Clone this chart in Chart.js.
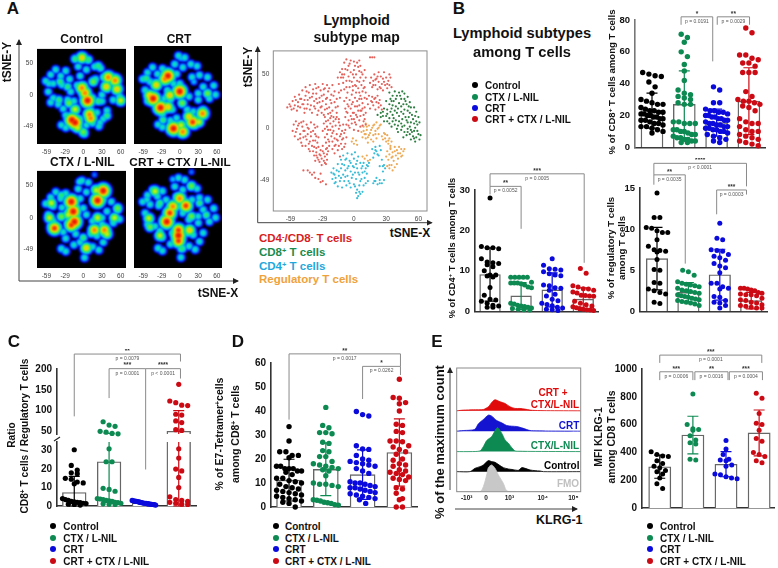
<!DOCTYPE html>
<html lang="en">
<head>
<meta charset="UTF-8">
<title>Lymphoid subtypes among T cells</title>
<style>
  body { margin: 0; background: #fff; width: 778px; height: 568px; overflow: hidden; position: relative;
         font-family: 'Liberation Sans', Arial, sans-serif; }
  canvas { position: absolute; }
  .t { position: absolute; white-space: nowrap; font-weight: bold; color: #111; transform: translate(-50%, -50%); }
  .t.left { transform: translate(0, -50%); }
  .t.v { transform: translate(-50%, -50%) rotate(-90deg); }
  .t sup { font-size: 65%; line-height: 0; vertical-align: 0.45em; }
  .dot { position: absolute; width: 6px; height: 6px; border-radius: 50%; transform: translate(-50%, -50%); }
  svg { position: absolute; left: 0; top: 0; }
</style>
<script src="https://cdn.jsdelivr.net/npm/chart.js"></script>
</head>
<body>
<svg width="778" height="568" id="overlay">
  <defs><marker id="tip" markerWidth="6" markerHeight="6" refX="5" refY="3" orient="auto"><path d="M0,0 L6,3 L0,6 z" fill="#222"/></marker></defs>
  <path d="M19,281 L238,281" fill="none" stroke="#444" stroke-width="1" marker-end="url(#tip)"/>
  <path d="M19,281 L19,40" fill="none" stroke="#444" stroke-width="1" marker-end="url(#tip)"/>
  <path d="M257.7,222.7 L257.7,47" fill="none" stroke="#444" stroke-width="1" marker-end="url(#tip)"/>
  <path d="M257.7,222.7 L431.7,222.7" fill="none" stroke="#444" stroke-width="1" marker-end="url(#tip)"/>
  <path d="M450,490 L450,368" fill="none" stroke="#444" stroke-width="1" marker-end="url(#tip)"/>
  <path d="M455,509 L577,509" fill="none" stroke="#444" stroke-width="1" marker-end="url(#tip)"/>
  <path d="M54,441 L60,437" stroke="#222" stroke-width="1.2"/>
</svg>
<script>
// group names and colours
const groupNames = ['Control', 'CTX / L-NIL', 'CRT', 'CRT + CTX / L-NIL'];
const groupColors = ['#000000', '#0d8a52', '#0a0adc', '#cc0a14'];

// B top: % CD8+
const cd8Control = [47,46,45,44.5,41,38,34,30,29,28,27,27,25,24,23,23,22,22,21,21,20,20,19,19,18,18,17,17,16,15,15,14,13,13,12,11,10,9];
const cd8Ctx = [71,69,66,60,57,52,48,42,36,34,33,32,31,30,28,27,27,16,16,15,15,15,11,11,10,10,9,8,8,7,6,6,5,5,4,4,3,3];
const cd8Crt = [38,36,28,28,24,23,23,22,22,21,20,20,19,19,18,18,17,17,16,15,15,14,14,13,13,12,12,11,11,10,10,9,8,7,6,5,4,3];
const cd8Combo = [75,72,58,58,56,55,53,53,51,47,47,47,35,32,30,29,29,28,27,26,25,23,18,16,15,15,13,11,10,10,8,7,6,5,4,3,2,1];
const cd8Means = [23, 27, 15.5, 29];
const cd8Sds = [11, 21, 8.5, 21];

// B lower left: % CD4+
const cd4Control = [28,16,15.7,15.7,15.5,13,12.2,12,11.8,11.5,11,10,9,9,8.7,8.5,5.9,4,3,2.8,2.5,2,1.5,1.3,1,1];
const cd4Ctx = [8.4,8.4,8.4,8.4,8.4,7.2,7,7,7,6.8,6.5,6,5.8,2,1.8,1.5,1.3,1.2,1,0.8,0.7,0.5,0.4,0.3];
const cd4Crt = [13,11.4,10.5,10.4,10.2,9.8,9.3,9,8.8,6.5,6.3,5.8,5.7,5.2,4.2,3.8,3,2.6,2,1.7,1.4,1,0.8,0.5,0.4,0.2];
const cd4Combo = [10.6,9.4,6.3,6,5.6,5.5,5.2,4.8,4.5,4,3.9,3.8,3.7,2.5,2,1.6,1.3,1.1,0.9,0.7,0.5,0.4,0.3,0.2];
const cd4Means = [9.1, 3.8, 5.3, 3];
const cd4Sds = [6.6, 3.3, 4.2, 2.8];

// B lower right: % regulatory
const tregControl = [14.4,11.4,11.4,10.2,10.1,9.8,9.6,9.6,8.7,7.9,7.5,7.4,7.3,7.2,6.3,5.1,5,3.5,3.4,2.7,2.5,2.3,2.1,1.1,0.95];
const tregCtx = [5,4.8,4.4,3.6,3.4,3.3,3.2,3.1,3,2.8,2.6,2.5,2.4,2.3,2.2,2,1.9,1.8,1.7,1.6,1.5,1.4,1.3,1.2,1.1,1,0.9,0.7];
const tregCrt = [10.7,8.9,8.7,7.5,7.4,7.3,6.9,6.7,6.5,6.2,5.8,5.5,5.3,4.7,3.4,3.4,3,2.8,2.7,1.8,1.7,1.3,1.1,1,0.7,0.4];
const tregCombo = [2.8,2.8,2.7,2.6,2.5,2.3,2.2,2.1,2,2,1.9,1.6,1.4,1.3,1.1,1,0.8,0.7,0.6,0.5,0.4,0.4];
const tregMeans = [6.4, 2.3, 4.45, 1.3];
const tregSds = [3.8, 1.2, 3.1, 1];

// C: ratio, axis is broken between 35 and 43
const ratioControl = [30.5,22,19.5,18,17.5,15,14.5,13,12.5,12,4,3.5,3,2.5,2.2,2,1.8,1.5,1.3,1,0.8,0.5];
const ratioCtx = [73,65,62,50,48,45,44,31,24,24,9.6,9,8,4,3.8,3.5,3,2.8,2.5,2,1.8,1.5,1.2,1,0.8];
const ratioCrt = [3,2.8,2.6,2.5,2.4,2.2,2,1.8,1.6,1.5,1.4,1.2,1.1,1,0.9,0.8,0.7,0.5];
const ratioCombo = [163,123,119,113,112,91,89,75,71,54,52,31,26,20,19,15.5,10,5,3.5,3,2.5,2,1.5,1,0.8];
const ratioMeans = [7.3, 24, 1.6, 50];
const ratioSds = [8.8, 21, 0.7, 50];

// D: % E7-Tetramer+
const e7Control = [33.5,27.5,23,23,21.5,21.5,20.5,17,17,16,16,16,15,15,14.5,13.5,12,12,11,10.5,10,9.5,8.5,8,7.5,7,6.5,6,5.5,5,4.5,4,3.5,3,2.5,2,1.5,0];
const e7Ctx = [41.5,34,33,31,31,30.5,27,26.5,23.5,23,21,21,19,18,17.5,17,16.5,16,15.5,15,13,10,9.5,9.5,9,8.5,3,2.8,2.5,2,1.8,1.5,1,0.8];
const e7Crt = [39.8,38.5,37.9,25.5,24.2,24,21.5,20,19.5,19,18.5,18,17.5,17,16,15,14,10.5,10,10,9.5,9,8.5,8,8,7.5,7,6.5,6,5.5,5,4.5,4,3.5,3,1.5];
const e7Combo = [53.2,45.6,45.3,43.5,43,40,34.5,34,31.5,31,27.5,27.5,27.2,25.5,25,24,23,22,20,19.5,18,17.5,17,15.5,15,14.5,14,13.5,12.5,12,11.5,11,8,7.5,5.7,3.5,3,0,0];
const e7Means = [11.2, 15.7, 13.5, 22.7];
const e7Sds = [8.7, 11, 10.3, 14];

// E right: MFI KLRG-1
const mfiControl = [405,385,375,370,340,320,300,290,270,260,245,215,175,140];
const mfiCtx = [820,600,570,565,560,520,490,470,460,350,345];
const mfiCrt = [485,425,385,350,345,340,310,300,245,240,225,215,210];
const mfiCombo = [825,790,680,610,600,560,500,480,400,385,370,340,325];
const mfiMeans = [297, 525, 315, 540];
const mfiSds = [83, 135, 90, 165];

// E left: histogram traces, channel / height above the row baseline
const histFmoX = [0,70,80,90,95,105,115,125,140,148,155,372];
const histFmoH = [0,0,15,50,72,80,70,50,25,5,1,0];
const histControlX = [0,40,55,70,80,95,105,115,130,140,155,170,185,195,205,220,235,250,260,372];
const histControlH = [0,0,10,15,20,33,30,28,18,12,8,6,4,12,10,5,3,2,0,0];
const histCtxX = [0,40,70,80,90,105,122,135,145,155,165,175,190,220,372];
const histCtxH = [0,0,2,15,33,45,72,55,35,25,12,2,1,0.5,0];
const histCrtX = [0,20,40,55,65,80,95,105,120,135,150,165,180,195,210,220,240,275,372];
const histCrtH = [0,2,3,6,22,35,48,45,32,25,17,15,14,10,5,2,1,0.5,0];
const histComboX = [0,20,50,80,95,105,115,130,145,160,175,190,205,220,235,270,372];
const histComboH = [0,2,3,4,12,25,33,27,22,12,7,7,5,2,1,0.5,0];
const histBases = [0, 60, 120, 181, 242];
const histMajorTicks = [30, 88, 158, 258, 350];
const histMajorLabels = ['-10³', '0', '10³', '10⁴', '10⁵'];
const histMinorTicks = [10,18,45,60,75,120,135,175,190,205,215,225,240,280,300,315,335,362];

// A: density hot spots [tSNE-X, tSNE-Y, density]
const heatBody = [[-60,22],[-52,32],[-44,40],[-36,30],[-28,38],[-22,25],[-48,18],[-34,16],[-56,5],[-48,-5],[-40,-15],[-52,-12],[-32,-22],[-28,-32],[-20,5],[-15,-10],[-25,-8],[-12,-25],[-10,15],[-5,30],[0,15],[5,5],[-8,45],[-2,58],[8,55],[5,40],[18,45],[28,42],[32,28],[45,25],[55,12],[38,10],[58,-2],[48,-8],[30,0],[15,-5],[20,25],[30,-10],[38,-25],[32,-38],[12,-25],[22,-28],[-15,-42],[-5,-38],[5,-48],[15,-45],[25,-50],[2,-62],[-35,-48],[-28,-52]];
const heatControl = [[-2,59,5.5],[-13,57,4],[8,56,4],[7,-9,7],[-2,11,6],[3,3,6],[40,28,6],[51,23,6],[37,13,5.5],[54,9,5.5],[60,-9,5],[-13,-44,7],[-18,-40,7],[-9,-52,5],[0,-59,4.5],[10,-31,6],[12,-37,6],[-13,-23,5],[-23,-13,4.5],[-37,21,4],[-39,-8,4],[-25,13,4],[-55,18,3.5],[24,46,4],[38,-33,4],[27,-44,3.5],[16,21,4.5],[24,-10,4]];
const heatCrt = [[-19,27,7],[-24,22,6],[-43,-8,7],[-49,-3,5.5],[-38,13,5.5],[-31,-22,7],[-19,-21,5.5],[-16,-3,5.5],[0,3,7],[4,-15,4.5],[-10,-54,7],[5,-59,6],[21,-44,6.5],[15,-36,5.5],[37,-31,6],[31,-44,5],[2,-49,5],[-27,-41,4],[45,0,4.5],[2,54,3],[23,18,3],[-54,23,4]];
const heatCtx = [[-19,25,7],[-16,10,7],[-14,-6,7],[-19,-11,6.5],[-24,5,5],[23,27,7],[32,42,7],[21,43,5],[-51,23,5],[-46,-16,6.5],[-54,0,5],[-35,2,4.5],[18,-19,6],[34,-19,6],[38,-25,5],[23,0,5],[50,0,5],[55,15,4.5],[5,-47,5.5],[-6,56,3.5],[0,-31,4],[-35,35,4],[18,67,2.5]];
const heatCombo = [[-2,-29,7],[-2,-21,6.5],[-2,-37,6.5],[-21,-8,7],[-16,5,6.5],[-11,15,6],[0,27,6],[10,16,6.5],[16,-21,5.5],[19,0,4.5],[-50,-3,5],[-48,-16,4.5],[-32,-29,5],[-40,38,5],[-53,25,3.5],[3,-49,4],[43,2,4],[32,20,4],[19,46,4.5],[-11,56,3],[19,67,2.5],[-32,20,4]];
const heatRamp = ['#00008c','#0000d8','#0040ff','#0090ff','#00d0f0','#10e8a0','#30e850','#90f020','#e8f000','#ffb000','#ff6000','#e81000'];

// A: subtype map cells, read as x,y pairs
const mapRed = [-62,19,-60,22,-58,17,-57,25,-55,21,-55,29,-53,16,-52,24,-51,31,-50,19,-49,27,-48,35,-47,22,-46,14,-45,30,-45,38,-44,18,-43,26,-42,33,-41,40,-40,21,-39,29,-39,14,-38,36,-37,25,-36,18,-36,41,-35,32,-34,12,-34,23,-33,38,-32,28,-31,19,-31,35,-30,14,-29,41,-29,25,-28,31,-27,37,-27,17,-26,22,-25,40,-25,28,-24,13,-24,34,-23,19,-22,26,-21,31,-20,16,-20,40,-19,10,-18,24,-18,34,-16,14,-15,20,-14,8,-13,28,
  -57,-3,-56,3,-55,-8,-54,6,-53,-1,-52,-11,-51,4,-50,-6,-49,-14,-48,1,-47,-9,-47,6,-46,-3,-45,-17,-44,-11,-44,3,-43,-6,-42,-20,-42,-1,-41,-13,-40,5,-40,-8,-39,-17,-38,-3,-38,-22,-37,3,-36,-12,-36,-6,-35,-19,-34,1,-34,-14,-33,-9,-41,-22,-48,-17,
  -37,-26,-36,-31,-35,-23,-34,-28,-33,-18,-32,-25,-32,-32,-31,-21,-30,-29,-30,-35,-29,-17,-28,-24,-28,-31,-27,-27,-26,-20,-26,-34,-25,-25,-25,-30,-24,-22,
  -29,-3,-28,4,-27,-9,-27,10,-26,-14,-25,1,-25,-6,-24,7,-24,-11,-23,-17,-22,-2,-22,4,-21,-8,-21,11,-20,-13,-20,-20,-19,-3,-19,6,-18,-10,-18,-24,-17,2,-17,-16,-16,-6,-16,10,-15,-12,-15,-21,-14,-1,-14,5,-13,-8,-13,-27,-12,-15,-11,-3,-11,-20,-10,-10,-10,3,-9,-5,-8,-15,-7,-9,
  -9,61,-7,64,-5,58,-3,63,0,62,3,61,6,58,5,63,-13,52,-15,47,-14,41,-12,47,-11,55,-10,42,-9,36,-9,50,-7,44,-6,54,-6,33,-5,48,-4,38,-3,52,-2,43,-2,31,-1,35,0,47,0,54,1,40,2,33,2,50,3,44,4,37,5,53,6,47,6,30,7,40,8,34,8,50,9,44,10,38,10,54,11,33,11,47,-12,35,-14,33,
  -9,25,-8,18,-8,10,-7,28,-7,3,-6,22,-6,14,-5,7,-4,26,-4,0,-3,18,-3,11,-2,4,-1,24,-1,14,0,-2,0,8,1,20,1,28,2,12,2,3,3,25,4,16,4,-3,5,7,5,21,6,11,6,1,7,27,7,16,8,23,9,6,9,12,10,19,10,28,11,3,11,14,
  15,42,16,47,17,38,18,44,19,50,20,40,21,46,22,36,23,43,23,52,24,38,25,48,26,41,27,35,27,46,28,52,29,40,30,47,31,37,32,44,33,40,34,47,35,38,
  12,27,13,22,14,30,15,18,16,25,17,29,18,21,19,27,20,17,21,24,22,30,23,19,24,26,25,21,26,17,
  -43,-40,-41,-42,-39,-44,-37,-42,-36,-47,-33,-48,-31,-51,-29,-50,-26,-53,-31,-43,15,66,17,66,19,66,-47,-40,
  -59,20,-56,18,-54,26,-52,20,-50,27,-48,22,-46,26,-46,18,-44,34,-43,22,-41,28,-41,17,-38,32,-37,20,-35,27,-35,37,-33,16,-32,24,-30,30,-30,20,-28,36,-28,12,-26,27,-25,18,-23,37,-22,14,-21,23,-19,30,-17,19,-16,27,
  -54,-4,-52,2,-50,-10,-49,5,-47,-3,-45,-8,-43,0,-42,-15,-40,-4,-38,-12,-37,-18,-36,0,-35,-8,-35,-26,-33,-30,-31,-26,-29,-22,-27,-33,-25,-19,
  -27,-1,-26,6,-24,-2,-23,-13,-22,9,-20,-5,-20,1,-18,-17,-17,8,-16,-11,-14,-17,-13,2,-12,-6,-11,-11,-9,-18,-8,-2,
  -11,50,-8,55,-4,60,1,58,4,57,-10,47,-7,38,-4,44,-1,50,2,39,5,33,5,43,9,37,-1,39,7,52,
  -7,15,-5,20,-5,2,-2,22,-2,8,0,14,1,5,3,20,3,10,5,27,6,16,8,18,8,2,10,8,
  18,40,20,45,22,48,25,37,28,43,31,41,33,50,17,24,20,28,23,23];
const mapGreen = [33,33,36,30,38,34,34,27,37,25,40,30,42,33,45,34,47,32,44,27,47,27,50,29,52,24,49,22,46,22,42,23,39,20,36,21,33,22,30,25,28,18,31,17,34,15,25,14,22,12,27,11,30,11,33,9,36,12,38,16,41,18,44,15,47,17,50,16,53,19,56,19,58,15,60,10,57,11,54,12,51,10,48,10,45,8,42,11,39,7,36,6,33,4,31,6,28,6,35,1,38,3,41,2,44,4,47,2,50,5,53,5,56,4,59,3,61,5,59,-3,56,-3,53,-2,50,-1,47,-4,44,-2,41,-4,49,-7,52,-6,55,-8,58,-9,61,-11,62,-7,57,-13,53,-11,46,-9,
  35,25,39,27,43,30,48,25,51,20,44,20,40,14,35,18,31,13,27,15,25,10,37,9,42,6,46,13,52,14,55,8,49,7,40,-1,45,1,52,1,57,0,58,6,50,-4,54,-4,60,-6,56,-10];
const mapCyan = [-21,-42,-20,-48,-19,-38,-18,-44,-18,-52,-17,-47,-16,-40,-15,-55,-15,-34,-14,-45,-13,-50,-12,-38,-12,-30,-11,-56,-10,-44,-10,-26,-9,-35,-9,-50,-8,-40,-7,-29,-7,-54,-6,-45,-6,-24,-5,-36,-5,-50,-4,-31,-3,-41,-3,-56,-2,-25,-2,-47,-1,-36,0,-29,0,-53,1,-42,1,-23,2,-34,2,-48,3,-58,3,-38,4,-27,5,-44,5,-54,6,-33,7,-48,7,-38,8,-42,9,-33,9,-54,10,-47,11,-38,12,-43,13,-36,13,-50,14,-33,2,-61,4,-64,6,-62,8,-60,3,-66,5,-60,17,-20,19,-24,20,-18,21,-22,23,-26,25,-21,24,-17,18,-28,18,-52,20,-50,22,-53,24,-49,26,-52,28,-49,21,-47,26,-30,28,-35,27,-41,29,-38,24,-36,
  -19,-43,-17,-51,-14,-41,-12,-47,-11,-34,-8,-46,-8,-30,-6,-38,-4,-52,-3,-33,-1,-44,0,-37,1,-55,3,-31,4,-42,6,-50,8,-36,10,-41,11,-52,12,-35,20,-21,22,-25,19,-50,24,-52,27,-36];
const mapOrange = [7,-4,9,1,10,-6,11,4,12,-2,13,-9,14,2,15,-5,16,-11,17,0,18,-7,19,3,20,-3,21,-10,21,5,22,-1,23,-6,24,2,25,3,11,-10,8,-9,13,-14,18,-13,-2,-13,0,-15,2,-12,3,-16,-1,-10,26,-8,28,-5,29,-10,30,-13,31,-7,32,-15,33,-10,34,-17,35,-13,27,-11,30,-27,31,-22,32,-30,33,-25,34,-19,35,-28,36,-23,37,-31,38,-18,39,-26,40,-21,41,-29,42,-18,43,-24,44,-20,45,-26,46,-22,47,-20,31,-36,33,-38,35,-35,36,-40,38,-37,40,-34,8,-27,10,-29,12,-26,13,-31,15,-30,
  9,-3,12,1,14,-7,16,-2,18,2,20,-6,23,0,11,-6,29,-6,32,-12,34,-20,36,-27,38,-22,41,-24,44,-27,33,-35];
const tsneXTicks = [-59, -29, 0, 30, 60];
const tsneYTicks = [-49, 0, 50];

// significance brackets, in group / value units
const cd8Brackets = [
  {from: 0.9, to: 1.88, top: 82, endA: 77, endB: 54, stars: '*', p: 'p = 0.0191'},
  {from: 2.02, to: 3.02, top: 82, endA: 77, endB: 77, stars: '**', p: 'p = 0.0029'}];
const cd4Brackets = [
  {from: 0, to: 1, top: 30.9, endA: 28.9, endB: 20.4, stars: '**', p: 'p = 0.0052'},
  {from: 0, to: 3.03, top: 34, endA: 30.9, endB: 12, stars: '***', p: 'p = 0.0005'}];
const tregBrackets = [
  {from: -0.1, to: 2.85, top: 18, endA: 16.6, endB: 15.2, stars: '****', p: 'p < 0.0001'},
  {from: -0.1, to: 0.9, top: 16.6, endA: 15.4, endB: 5.8, stars: '**', p: 'p = 0.0035'},
  {from: 1.9, to: 2.85, top: 14.76, endA: 11.8, endB: 14.2, stars: '***', p: 'p = 0.0003'}];
const ratioBrackets = [
  {from: 0, to: 3.05, top: 236, endA: 86, endB: 218, stars: '**', p: 'p = 0.0079'},
  {from: 1, to: 2.05, top: 200.8, endA: 130, endB: -42, stars: '***', p: 'p = 0.0001'},
  {from: 2.05, to: 3.05, top: 200.8, endA: 200.8, endB: 177, stars: '****', p: 'p < 0.0001'}];
const e7Brackets = [
  {from: 0, to: 3.03, top: 63.8, endA: 36.4, endB: 58.6, stars: '**', p: 'p = 0.0017'},
  {from: 2, to: 3.03, top: 58.6, endA: 45, endB: 55, stars: '*', p: 'p = 0.0262'}];
const mfiBrackets = [
  {from: 0, to: 3.08, top: 1100, endA: 1044, endB: 1044, stars: '***', p: 'p = 0.0001'},
  {from: 0, to: 1, top: 980, endA: 920, endB: 920, stars: '***', p: 'p = 0.0006'},
  {from: 1.06, to: 2.06, top: 980, endA: 920, endB: 920, stars: '**', p: 'p = 0.0016'},
  {from: 2.1, to: 3.1, top: 980, endA: 920, endB: 920, stars: '***', p: 'p = 0.0004'}];

Chart.defaults.font.family = "'Liberation Sans', Arial, sans-serif";
Chart.defaults.animation = false;

const addCanvas = (left, top, width, height) => {
  const c = document.createElement('canvas');
  c.width = width; c.height = height;
  c.style.left = left + 'px'; c.style.top = top + 'px';
  document.body.appendChild(c);
  return c;
};

const label = (html, x, y, size, color, cls) => {
  const d = document.createElement('div');
  d.className = 't ' + (cls || '');
  d.innerHTML = html;
  d.style.left = x + 'px'; d.style.top = y + 'px';
  d.style.fontSize = size + 'px';
  if (color) d.style.color = color;
  document.body.appendChild(d);
};

const groupLegend = (dotX, textX, ys) => {
  groupNames.forEach((name, i) => {
    const dot = document.createElement('div');
    dot.className = 'dot';
    dot.style.left = dotX + 'px'; dot.style.top = ys[i] + 'px';
    dot.style.background = groupColors[i];
    document.body.appendChild(dot);
    label(name, textX, ys[i], 10, '#111', 'left');
  });
};

// prism style dot rows: values close in height share a row, spread evenly round the bar centre
const swarm = (values, yPx, r, maxDx) => {
  const placed = [], binH = r * 2;
  let row = [];
  const flush = () => {
    const step = row.length > 1 ? Math.min(r * 2.3, 2 * maxDx / (row.length - 1)) : 0;
    row.forEach((v, j) => placed.push({v, dx: (j - (row.length - 1) / 2) * step}));
    row = [];
  };
  [...values].sort((a, b) => b - a).forEach(v => {
    if (row.length && yPx(v) - yPx(row[0]) > binH) flush();
    row.push(v);
  });
  flush();
  return placed;
};

const swarmExtras = {
  id: 'swarmExtras',
  afterDatasetDraw(chart, args, opts) {
    if (args.index !== 0) return;
    const {ctx} = chart, xs = chart.scales.x, ys = chart.scales.y;
    opts.means.forEach((m, i) => {
      const hi = m + opts.sds[i], lo = Math.max(m - opts.sds[i], 0);
      if (lo > ys.max || hi < ys.min) return;
      const x = xs.getPixelForValue(i);
      ctx.save();
      ctx.strokeStyle = groupColors[i];
      ctx.lineWidth = 1.2;
      ctx.beginPath();
      ctx.moveTo(x, ys.getPixelForValue(Math.min(hi, ys.max)));
      ctx.lineTo(x, ys.getPixelForValue(Math.max(lo, ys.min)));
      [hi, lo].forEach(v => {
        if (v < ys.min || v > ys.max) return;
        ctx.moveTo(x - 5.5, ys.getPixelForValue(v));
        ctx.lineTo(x + 5.5, ys.getPixelForValue(v));
      });
      ctx.stroke();
      ctx.restore();
    });
  },
  afterDraw(chart, args, opts) {
    const {ctx} = chart, xs = chart.scales.x, ys = chart.scales.y;
    (opts.brackets || []).forEach(b => {
      const x1 = xs.getPixelForValue(b.from), x2 = xs.getPixelForValue(b.to), top = ys.getPixelForValue(b.top);
      ctx.save();
      ctx.strokeStyle = '#8a8a8a';
      ctx.lineWidth = 1;
      ctx.beginPath();
      ctx.moveTo(x1, ys.getPixelForValue(b.endA));
      ctx.lineTo(x1, top);
      ctx.lineTo(x2, top);
      ctx.lineTo(x2, ys.getPixelForValue(b.endB));
      ctx.stroke();
      ctx.textAlign = 'center';
      ctx.textBaseline = 'middle';
      ctx.fillStyle = '#333';
      ctx.font = "bold 6.5px 'Liberation Sans'";
      ctx.fillText(b.stars, (x1 + x2) / 2, top - 3);
      ctx.fillStyle = '#555';
      ctx.font = "5px 'Liberation Sans'";
      ctx.fillText(b.p, (x1 + x2) / 2, top + 4.5);
      ctx.restore();
    });
  }
};

const swarmPanel = cfg => {
  const {plot, center0, spacing, barWidth, placed, means, sds, yMin, yMax, yTicks, brackets} = cfg;
  const [l, t, r, b] = plot;
  const axisW = 30, topPad = cfg.topPad || 18, bottomPad = cfg.bottomPad || 5, rightPad = 5;
  const canvas = addCanvas(Math.round(l - axisW), Math.round(t - topPad), Math.round(axisW + r - l + rightPad), Math.round(topPad + b - t + bottomPad));
  const barData = means.map((y, x) => ({x, y})).filter(p => p.y >= yMin);
  const datasets = [{
    type: 'bar', data: barData, order: 1,
    backgroundColor: '#fff', borderColor: '#666', borderWidth: 1.4, barThickness: barWidth
  }];
  placed.forEach((group, i) => {
    datasets.push({
      type: 'scatter', order: 0, clip: false,
      data: group.filter(p => p.v >= yMin && p.v <= yMax).map(p => ({x: i + p.dx / spacing, y: p.v})),
      backgroundColor: groupColors[i], borderWidth: 0, pointRadius: cfg.radius
    });
  });
  new Chart(canvas, {
    type: 'bar',
    data: {datasets},
    options: {
      responsive: false,
      layout: {autoPadding: false, padding: {top: topPad, bottom: bottomPad, left: 0, right: rightPad}},
      plugins: {legend: {display: false}, tooltip: {enabled: false}, swarmExtras: {means, sds, brackets}},
      scales: {
        x: {
          type: 'linear', min: (l - center0) / spacing, max: (r - center0) / spacing, offset: false,
          display: cfg.showX !== false,
          grid: {display: false, drawTicks: false},
          ticks: {display: false},
          border: {color: '#333', width: 1.5},
          afterFit: s => { s.height = 0; }
        },
        y: {
          min: yMin, max: yMax,
          grid: {display: false, tickLength: 4, drawTicks: true, drawOnChartArea: false, tickColor: '#222'},
          border: {color: cfg.axisColor || '#333', width: 1.6},
          ticks: {color: '#111', font: {size: cfg.tickSize || 10, weight: 'bold'}, padding: 1, autoSkip: false, callback: v => String(v)},
          afterBuildTicks: s => { s.ticks = yTicks.map(value => ({value})); },
          afterFit: s => { s.width = axisW; }
        }
      }
    },
    plugins: [swarmExtras]
  });
};

const linearPanel = cfg => {
  const [, t, , b] = cfg.plot;
  const yPx = v => b - (v - cfg.yMin) * (b - t) / (cfg.yMax - cfg.yMin);
  swarmPanel({...cfg, placed: cfg.groups.map(g => swarm(g, yPx, cfg.radius, cfg.barWidth * 0.5))});
};

// B
linearPanel({
  plot: [635, 20, 765, 149], center0: 652, spacing: 32.3, barWidth: 22, radius: 2.7, tickSize: 9.5, axisColor: '#777',
  groups: [cd8Control, cd8Ctx, cd8Crt, cd8Combo], means: cd8Means, sds: cd8Sds, yMin: 0, yMax: 80, yTicks: [0, 20, 40, 60, 80], brackets: cd8Brackets
});
linearPanel({
  plot: [475, 189.7, 597.7, 312.3], center0: 490, spacing: 31, barWidth: 20.7, radius: 2.5, tickSize: 9.5, topPad: 30,
  groups: [cd4Control, cd4Ctx, cd4Crt, cd4Combo], means: cd4Means, sds: cd4Sds, yMin: 0, yMax: 30, yTicks: [0, 10, 20, 30], brackets: cd4Brackets
});
linearPanel({
  plot: [640, 188, 767, 313], center0: 657, spacing: 31.4, barWidth: 21.5, radius: 2.5, tickSize: 9.5, topPad: 30,
  groups: [tregControl, tregCtx, tregCrt, tregCombo], means: tregMeans, sds: tregSds, yMin: 0, yMax: 15, yTicks: [0, 5, 10, 15], brackets: tregBrackets
});

// C, two stacked plots sharing one swarm layout
const ratioPx = v => v <= 35 ? 507.7 - v * 1.9 : 431 - (v - 50) * 0.413;
const ratioPlaced = [ratioControl, ratioCtx, ratioCrt, ratioCombo].map(g => swarm(g, ratioPx, 2.6, 11.8));
swarmPanel({
  plot: [56.7, 441.7, 196, 507.7], center0: 74, spacing: 34.9, barWidth: 23.7, radius: 2.6,
  placed: ratioPlaced, means: ratioMeans, sds: ratioSds, yMin: 0, yMax: 34.7, yTicks: [0, 10, 20, 30], topPad: 8
});
swarmPanel({
  plot: [56.7, 369, 196, 433.7], center0: 74, spacing: 34.9, barWidth: 23.7, radius: 2.6, showX: false,
  placed: ratioPlaced, means: ratioMeans, sds: ratioSds, yMin: 43.5, yMax: 200, yTicks: [50, 100, 150, 200], brackets: ratioBrackets, topPad: 20, bottomPad: 40
});

// D
linearPanel({
  plot: [271, 363.3, 416.7, 509.3], center0: 289, spacing: 36.7, barWidth: 25, radius: 2.7,
  groups: [e7Control, e7Ctx, e7Crt, e7Combo], means: e7Means, sds: e7Sds, yMin: 0, yMax: 60, yTicks: [0, 10, 20, 30, 40, 50, 60], brackets: e7Brackets, topPad: 24
});

// E bars
linearPanel({
  plot: [641.7, 368.7, 774, 509.7], center0: 659.5, spacing: 33.2, barWidth: 22.2, radius: 2.5,
  groups: [mfiControl, mfiCtx, mfiCrt, mfiCombo], means: mfiMeans, sds: mfiSds, yMin: 0, yMax: 1000, yTicks: [0, 200, 400, 600, 800, 1000], brackets: mfiBrackets, topPad: 24
});

// E histograms
const boxOutline = {
  id: 'boxOutline',
  afterDraw(chart) {
    const {ctx, chartArea: a} = chart;
    ctx.save();
    ctx.strokeStyle = '#8c8c8c';
    ctx.lineWidth = 1;
    ctx.strokeRect(a.left, a.top, a.width, a.height);
    ctx.restore();
  }
};
const histRow = (xs, hs, row, color) => ({
  data: xs.map((x, i) => ({x, y: histBases[row] + hs[i]})),
  borderColor: color, borderWidth: 0.8, backgroundColor: color, pointRadius: 0, tension: 0.25,
  fill: {value: histBases[row]}
});
new Chart(addCanvas(452, 364, 135, 146), {
  type: 'line',
  data: {datasets: [
    histRow(histFmoX, histFmoH, 0, '#c8c8c8'),
    histRow(histControlX, histControlH, 1, '#000000'),
    histRow(histCtxX, histCtxH, 2, '#0d8a52'),
    histRow(histCrtX, histCrtH, 3, '#1414d0'),
    histRow(histComboX, histComboH, 4, '#e00a0a')
  ]},
  options: {
    responsive: false,
    layout: {autoPadding: false, padding: {top: 4, left: 4.7, right: 6.3, bottom: 0}},
    plugins: {legend: {display: false}, tooltip: {enabled: false}},
    scales: {
      x: {
        type: 'linear', min: 0, max: 372,
        grid: {display: false, drawTicks: true, tickLength: 3, drawOnChartArea: false, tickColor: '#444'},
        border: {display: false},
        ticks: {
          autoSkip: false, maxRotation: 0, padding: 0, color: '#222', font: {size: 6.5, weight: 'bold'},
          callback: v => histMajorLabels[histMajorTicks.indexOf(v)] || ''
        },
        afterBuildTicks: s => { s.ticks = [...histMajorTicks, ...histMinorTicks].sort((a, b) => a - b).map(value => ({value})); },
        afterFit: s => { s.height = 18.3; }
      },
      y: {min: 0, max: 370, display: false}
    }
  },
  plugins: [boxOutline]
});

// A density maps: nested discs per density level, softened a little
const heatBlur = {
  id: 'heatBlur',
  beforeDatasetsDraw(chart) {
    const {ctx, chartArea: a} = chart;
    ctx.fillStyle = '#000';
    ctx.fillRect(a.left, a.top, a.width, a.height);
    ctx.save();
    ctx.beginPath();
    ctx.rect(a.left, a.top, a.width, a.height);
    ctx.clip();
    ctx.filter = 'blur(1.2px)';
  },
  afterDatasetsDraw(chart) { chart.ctx.restore(); }
};

const tsneScales = (showY) => ({
  x: {
    type: 'linear', min: -74, max: 68.5,
    grid: {display: false, drawTicks: true, tickLength: 3, drawOnChartArea: false, tickColor: '#555'},
    border: {display: false},
    ticks: {autoSkip: false, maxRotation: 0, padding: 1, color: '#444', font: {size: 6.5}},
    afterBuildTicks: s => { s.ticks = tsneXTicks.map(value => ({value})); },
    afterFit: s => { s.height = 14; }
  },
  y: {
    type: 'linear', min: -78, max: 73,
    grid: {display: false, drawTicks: showY, tickLength: 3, drawOnChartArea: false, tickColor: '#555'},
    border: {display: false},
    ticks: {display: showY, autoSkip: false, padding: 1, color: '#444', font: {size: 6.5}},
    afterBuildTicks: s => { s.ticks = tsneYTicks.map(value => ({value})); },
    afterFit: s => { s.width = 16; }
  }
});

const heatPanel = (box, spots, showY) => {
  const [l, t, r, b] = box;
  const blobs = heatBody.map(p => [p[0], p[1], 3.6]).concat(spots);
  const datasets = heatRamp.map((color, k) => {
    const level = 1 + k * 0.5;
    const live = blobs.filter(p => p[2] >= level);
    return {
      data: live.map(p => ({x: p[0], y: p[1]})),
      pointRadius: live.map(p => 1.5 + (p[2] - level) * 1.45),
      backgroundColor: color, borderWidth: 0, order: heatRamp.length - k
    };
  });
  new Chart(addCanvas(Math.round(l - 16), Math.round(t - 2), Math.round(r - l + 16 + 4), Math.round(b - t + 2 + 14)), {
    type: 'scatter',
    data: {datasets},
    options: {
      responsive: false,
      layout: {autoPadding: false, padding: {top: 2, right: 4, left: 0, bottom: 0}},
      plugins: {legend: {display: false}, tooltip: {enabled: false}},
      scales: tsneScales(showY)
    },
    plugins: [heatBlur]
  });
};
heatPanel([37, 46, 126, 144], heatControl, true);
heatPanel([134, 46, 222, 144], heatCrt, false);
heatPanel([37, 168, 126, 268], heatCtx, true);
heatPanel([134, 168, 222, 268], heatCombo, false);

// A subtype map
const pairs = flat => { const out = []; for (let i = 0; i < flat.length; i += 2) out.push({x: flat[i], y: flat[i + 1]}); return out; };
const mapSet = (flat, color) => ({data: pairs(flat), backgroundColor: color, borderWidth: 0, pointRadius: 1.1});
new Chart(addCanvas(257, 46, 175, 177), {
  type: 'scatter',
  data: {datasets: [mapSet(mapRed, '#e2625c'), mapSet(mapGreen, '#2f7f42'), mapSet(mapCyan, '#38bdd6'), mapSet(mapOrange, '#eeaa55')]},
  options: {
    responsive: false,
    layout: {autoPadding: false, padding: {top: 2, right: 5, left: 0, bottom: 0}},
    plugins: {legend: {display: false}, tooltip: {enabled: false}},
    scales: (() => {
      const s = tsneScales(true);
      s.x.min = -75; s.x.max = 68; s.y.min = -78; s.y.max = 72;
      s.x.afterFit = a => { a.height = 12; };
      s.y.afterFit = a => { a.width = 16.3; };
      return s;
    })()
  },
  plugins: [boxOutline]
});

// text
[['A', 13, 9], ['B', 459, 9], ['C', 14, 342], ['D', 238, 342], ['E', 437, 342]].forEach(p => label(p[0], p[1], p[2], 17));
label('Control', 81.7, 39, 12); label('CRT', 179, 39, 12);
label('CTX / L-NIL', 82.3, 162.3, 12); label('CRT + CTX / L-NIL', 180, 162.3, 11.8);
label('tSNE-Y', 7, 62, 12, null, 'v'); label('tSNE-X', 218, 293, 12);
label('tSNE-Y', 248.3, 66.7, 12, null, 'v'); label('tSNE-X', 410, 233, 12);
label('Lymphoid', 356.7, 20, 14); label('subtype map', 356.7, 37, 14);
label('CD4<sup>-</sup>/CD8<sup>-</sup> T cells', 259, 237.7, 11.5, '#d81e1e', 'left');
label('CD8<sup>+</sup> T cells', 259, 251.7, 11.5, '#1a8c4e', 'left');
label('CD4<sup>+</sup> T cells', 259, 265.7, 11.5, '#1fa8dc', 'left');
label('Regulatory T cells', 259, 279.3, 11.5, '#f0a23a', 'left');

label('Lymphoid subtypes', 522, 33, 14.7); label('among T cells', 522, 52, 14.7);
groupLegend(475, 485, [85, 96.7, 107.7, 119.3]);
label('% of CD8<sup>+</sup> T cells among T cells', 610.7, 82.3, 9.6, null, 'v');
label('% of CD4<sup>+</sup> T cells among T cells', 452.3, 248.3, 9.3, null, 'v');
label('% of regulatory T cells', 610, 248.3, 9.6, null, 'v');
label('among T cells', 621, 248.3, 9.6, null, 'v');

label('Ratio', 10.7, 435, 10.2, null, 'v');
label('CD8<sup>+</sup> T cells / Regulatory T cells', 24, 436, 10.2, null, 'v');
groupLegend(53.3, 63.3, [526, 537.7, 549.3, 560.7]);
label('% of E7-Tetramer<sup>+</sup>cells', 219.3, 434, 10.5, null, 'v');
label('among CD8<sup>+</sup> T cells', 235, 434, 10.5, null, 'v');
groupLegend(275.7, 285, [526, 537.7, 549.3, 560.7]);

label('% of the maximum count', 439.3, 442.3, 13, null, 'v');
label('KLRG-1', 559.3, 520, 12.5);
label('CRT +', 553, 391.7, 10, '#e00a0a'); label('CTX/L-NIL', 555, 404, 10, '#e00a0a');
label('CRT', 569, 424.7, 10, '#1414d0');
label('CTX/L-NIL', 555, 445, 10, '#0d8a52');
label('Control', 561.7, 465, 10, '#000');
label('FMO', 568, 482.7, 10, '#c0c0c0');
label('MFI KLRG-1', 598.3, 436.7, 10.4, null, 'v');
label('among CD8 T cells', 610.7, 436.7, 10.4, null, 'v');
groupLegend(650, 660, [526, 537.7, 549.3, 560.7]);
</script>
</body>
</html>
